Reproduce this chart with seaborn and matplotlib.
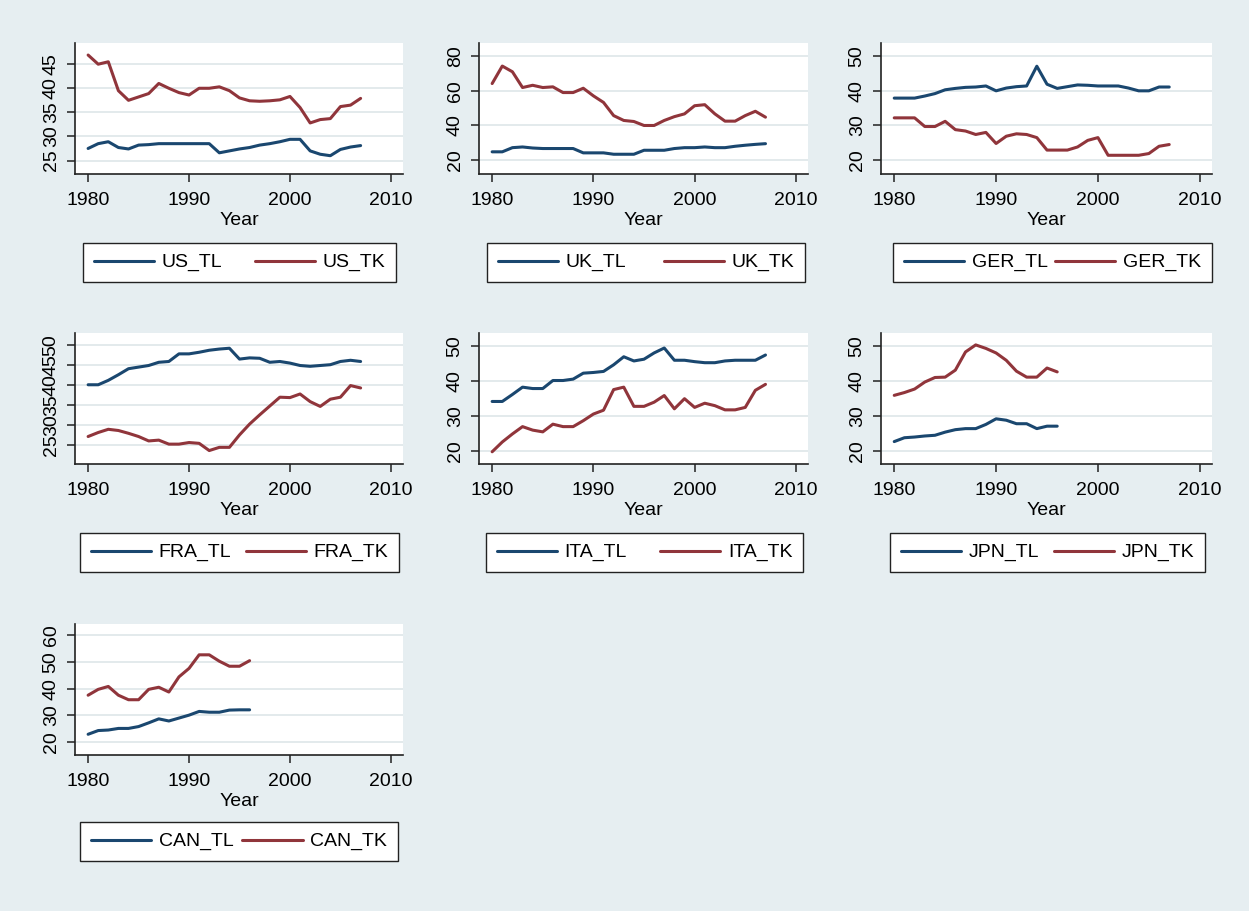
import pandas as pd
import matplotlib
matplotlib.use("Agg")
import matplotlib.pyplot as plt
import seaborn as sns

# style de base, puis police type Arial (après sns.set qui réinitialise)
sns.set(style="white")
plt.rcParams['font.family'] = ['Liberation Sans', 'DejaVu Sans']
plt.rcParams['text.color'] = 'black'
plt.rcParams['axes.labelcolor'] = 'black'

###########################################
# Données
###########################################

years_long = list(range(1980, 2008))
years_short = list(range(1980, 1997))

us_tl = [27.5, 28.5, 28.9, 27.7, 27.4, 28.2, 28.3, 28.5, 28.5, 28.5, 28.5, 28.5, 28.5, 26.6,
         27.0, 27.4, 27.7, 28.2, 28.5, 28.9, 29.4, 29.4, 27.0, 26.3, 26.0, 27.3, 27.8, 28.1]
us_tk = [46.9, 45.0, 45.5, 39.5, 37.5, 38.2, 38.9, 41.0, 40.0, 39.1, 38.6, 40.0, 40.0, 40.3,
         39.5, 38.0, 37.4, 37.3, 37.4, 37.6, 38.3, 36.0, 32.8, 33.5, 33.7, 36.2, 36.5, 37.9]

uk_tl = [24.8, 24.8, 27.2, 27.6, 27.0, 26.7, 26.7, 26.7, 26.7, 24.2, 24.2, 24.2, 23.4, 23.4,
         23.4, 25.7, 25.7, 25.7, 26.7, 27.2, 27.2, 27.6, 27.2, 27.2, 28.0, 28.6, 29.1, 29.5]
uk_tk = [64.2, 74.3, 71.0, 61.9, 63.2, 61.9, 62.3, 59.0, 59.0, 61.5, 57.1, 53.3, 45.7, 42.9,
         42.3, 40.0, 40.0, 42.9, 45.1, 46.7, 51.4, 52.0, 46.7, 42.5, 42.5, 45.7, 48.2, 44.8]

ger_tl = [37.9, 37.9, 37.9, 38.5, 39.2, 40.3, 40.7, 41.0, 41.1, 41.4, 40.0, 40.8, 41.2, 41.4,
          47.1, 41.9, 40.7, 41.2, 41.7, 41.6, 41.4, 41.4, 41.4, 40.8, 40.0, 40.0, 41.1, 41.1]
ger_tk = [32.2, 32.2, 32.2, 29.7, 29.7, 31.2, 28.8, 28.4, 27.4, 28.0, 24.8, 26.9, 27.6, 27.4,
          26.5, 22.9, 22.9, 22.9, 23.8, 25.7, 26.5, 21.4, 21.4, 21.4, 21.4, 21.9, 24.0, 24.5]

fra_tl = [40.0, 40.0, 41.1, 42.5, 44.0, 44.4, 44.8, 45.6, 45.8, 47.7, 47.7, 48.1, 48.6, 48.9,
          49.1, 46.4, 46.7, 46.6, 45.6, 45.8, 45.4, 44.8, 44.6, 44.8, 45.0, 45.8, 46.1, 45.8]
fra_tk = [27.1, 28.1, 28.9, 28.6, 27.9, 27.1, 26.0, 26.2, 25.2, 25.2, 25.6, 25.4, 23.6, 24.4,
          24.4, 27.5, 30.2, 32.5, 34.7, 36.9, 36.8, 37.7, 35.8, 34.6, 36.4, 36.9, 39.8, 39.2]

ita_tl = [34.2, 34.2, 36.2, 38.3, 37.9, 37.9, 40.2, 40.2, 40.6, 42.3, 42.5, 42.8, 44.7, 47.0,
          45.8, 46.3, 48.1, 49.5, 46.0, 46.0, 45.6, 45.3, 45.3, 45.8, 46.0, 46.0, 46.0, 47.5]
ita_tk = [19.8, 22.6, 24.9, 27.0, 26.0, 25.5, 27.7, 27.0, 27.0, 28.7, 30.6, 31.7, 37.6, 38.3,
          32.8, 32.8, 34.0, 35.9, 32.1, 35.0, 32.5, 33.7, 33.0, 31.8, 31.8, 32.5, 37.4, 39.1]

jpn_tl = [22.8, 23.9, 24.1, 24.4, 24.6, 25.5, 26.2, 26.5, 26.5, 27.7, 29.3, 28.9, 27.9, 27.9,
          26.5, 27.2, 27.2]
jpn_tk = [36.0, 36.8, 37.8, 39.8, 41.1, 41.2, 43.2, 48.4, 50.4, 49.4, 48.1, 46.0, 42.9, 41.2,
          41.2, 43.8, 42.7]

can_tl = [22.8, 24.2, 24.4, 25.0, 25.0, 25.7, 27.1, 28.6, 27.8, 28.9, 30.0, 31.4, 31.1, 31.1,
          31.9, 32.0, 32.0]
can_tk = [37.5, 39.7, 40.8, 37.5, 35.8, 35.8, 39.7, 40.5, 38.7, 44.4, 47.6, 52.7, 52.7, 50.3,
          48.4, 48.4, 50.5]

###########################################
# Mise en page (pixels, origine en haut à gauche)
###########################################

W, H = 1249, 911
BLEU = "#1a476f"
ROUGE = "#90353b"
FOND = "#e6eef1"
GRILLE = "#e0e8eb"

cols = [(75, 403), (479, 808), (881, 1212)]
rows = [(43, 174), (333, 464), (624, 755)]
legend_rows = [243, 533, 822]

panneaux = [
    ("US", years_long, us_tl, us_tk, [25, 30, 35, 40, 45], (22.2, 49.4), 0, 0, (83, 396)),
    ("UK", years_long, uk_tl, uk_tk, [20, 40, 60, 80], (12.0, 87.6), 0, 1, (487, 805)),
    ("GER", years_long, ger_tl, ger_tk, [20, 30, 40, 50], (16.0, 53.8), 0, 2, (893, 1212)),
    ("FRA", years_long, fra_tl, fra_tk, [25, 30, 35, 40, 45, 50], (20.25, 52.9), 1, 0, (80, 399)),
    ("ITA", years_long, ita_tl, ita_tk, [20, 30, 40, 50], (16.3, 53.8), 1, 1, (486, 803)),
    ("JPN", years_short, jpn_tl, jpn_tk, [20, 30, 40, 50], (16.4, 53.8), 1, 2, (890, 1205)),
    ("CAN", years_short, can_tl, can_tk, [20, 30, 40, 50, 60], (15.0, 64.3), 2, 0, (80, 398)),
]

fig = plt.figure(figsize=(W / 100, H / 100), dpi=100)
fig.patch.set_facecolor(FOND)

for nom, years, tl, tk, yticks, ylim, r, c, (lx0, lx1) in panneaux:
    x0, x1 = cols[c]
    y0, y1 = rows[r]
    ax = fig.add_axes([x0 / W, 1 - y1 / H, (x1 - x0) / W, (y1 - y0) / H])
    ax.set_facecolor("white")

    df = pd.DataFrame({"Year": years, f"{nom}_TL": tl, f"{nom}_TK": tk})
    sns.lineplot(data=df, x="Year", y=f"{nom}_TL", color=BLEU, lw=2.2, label=f"{nom}_TL", ax=ax)
    sns.lineplot(data=df, x="Year", y=f"{nom}_TK", color=ROUGE, lw=2.2, label=f"{nom}_TK", ax=ax)

    ax.set_xlim(1978.7, 2011.2)
    ax.set_xticks([1980, 1990, 2000, 2010])
    ax.set_ylim(*ylim)
    ax.set_yticks(yticks)
    ax.yaxis.grid(True, color=GRILLE, lw=1.3)
    ax.set_axisbelow(True)
    for s in ["top", "right"]:
        ax.spines[s].set_visible(False)
    for s in ["left", "bottom"]:
        ax.spines[s].set_color("#222222")
        ax.spines[s].set_linewidth(1.2)
    ax.tick_params(axis="both", direction="out", length=6, width=1.1, color="#222222",
                   labelsize=14, labelcolor="black", left=True, bottom=True)
    ax.tick_params(axis="x", pad=7)
    ax.tick_params(axis="y", pad=5)
    for lab in ax.get_yticklabels():
        lab.set_rotation(90)
        lab.set_va("center")
    ax.set_xlabel("Year", fontsize=14, labelpad=2, color="black")
    ax.set_ylabel("")

    handles, labels = ax.get_legend_handles_labels()
    ax.get_legend().remove()
    ly = legend_rows[r]
    fig.legend(handles, labels, loc="upper left",
               bbox_to_anchor=(lx0 / W, 1 - ly / H - 0.001, (lx1 - lx0) / W, 0.001),
               bbox_transform=fig.transFigure, mode="expand", ncol=2, fontsize=14,
               frameon=True, fancybox=False, edgecolor="#222222", facecolor="white",
               framealpha=1, borderaxespad=0, borderpad=0.55, handlelength=3.1,
               handletextpad=0.4, columnspacing=1.0)

plt.savefig("out.png", dpi=100, facecolor=FOND)
